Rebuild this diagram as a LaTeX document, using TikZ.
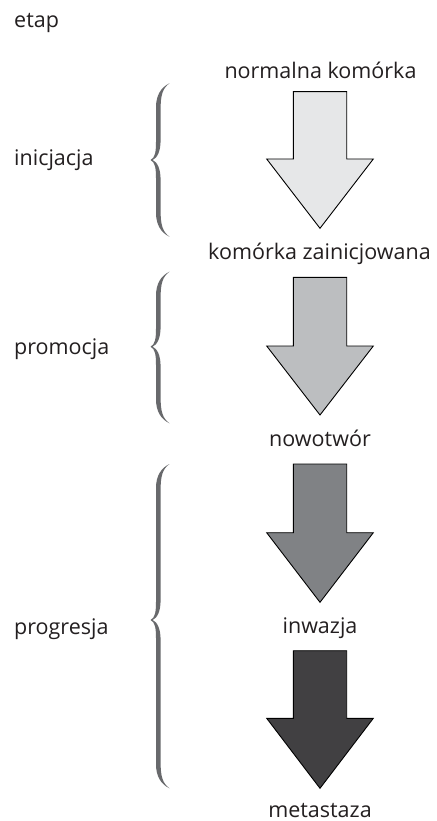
\documentclass[tikz,border=0pt]{standalone}
\usepackage{fontspec}
\setmainfont{Open Sans}
\definecolor{arrA}{HTML}{E6E7E8}
\definecolor{arrB}{HTML}{BCBEC0}
\definecolor{arrC}{HTML}{808285}
\definecolor{arrD}{HTML}{414042}
\definecolor{bracegray}{HTML}{68696C}
\definecolor{txt}{HTML}{231F20}
\newcommand\stagebrace[3]{%
 \fill[bracegray] (169.5,#1) .. controls (161,#1+4) and (156,#1+12) .. (156,#1+24)
   -- (156,#2-18) .. controls (156,#2-8) and (155,#2-2) .. (150.5,#2)
   .. controls (155,#2+2) and (156,#2+8) .. (156,#2+18)
   -- (156,#3-24) .. controls (156,#3-12) and (161,#3-4) .. (169.5,#3)
   .. controls (162.5,#3-5) and (160.6,#3-12) .. (160.6,#3-26)
   -- (160.6,#2+20) .. controls (160.6,#2+8) and (157,#2+2) .. (152.6,#2)
   .. controls (157,#2-2) and (160.6,#2-8) .. (160.6,#2-20)
   -- (160.6,#1+26) .. controls (160.6,#1+12) and (162.5,#1+5) .. (169.5,#1) -- cycle;}
\newcommand\stagearrow[4]{%
 \filldraw[fill=#4, draw=black, line width=0.9pt, line join=miter]
   (293.3,#1) -- (346.7,#1) -- (346.7,#2) -- (373.3,#2) -- (320,#3)
   -- (266.7,#2) -- (293.3,#2) -- cycle;}
\begin{document}
\begin{tikzpicture}[x=1pt,y=-1pt,
  lbl/.style={inner sep=0pt, anchor=base west, font=\fontsize{21.5}{25}\selectfont, text=txt},
  clbl/.style={inner sep=0pt, anchor=base, font=\fontsize{21.5}{25}\selectfont, text=txt}]
\useasboundingbox[fill=white] (0,0) rectangle (436,821);
% left labels
\node[lbl] (etap) at (14,28) {etap};
\node[lbl] (inic) at (14,166) {inicjacja};
\node[lbl] (prom) at (14,354) {promocja};
\node[lbl] (prog) at (14,634) {progresja};
% right labels
\node[clbl] (normal) at (320.5,78.3) {normalna komórka};
\node[clbl] (zainic) at (319.5,259) {komórka zainicjowana};
\node[clbl] (nowot) at (320,446.7) {nowotwór};
\node[clbl] (inwaz) at (320,633.3) {inwazja};
\node[clbl] (metas) at (320,817) {metastaza};
% arrows
\stagearrow{91.7}{159}{228.3}{arrA}
\stagearrow{277.3}{346}{415}{arrB}
\stagearrow{464}{532.7}{602.3}{arrC}
\stagearrow{650.7}{718.3}{788.3}{arrD}
% braces
\stagebrace{83.3}{160}{236.7}
\stagebrace{271.7}{346.7}{423.3}
\stagebrace{464}{620}{788.3}
\end{tikzpicture}
\end{document}
